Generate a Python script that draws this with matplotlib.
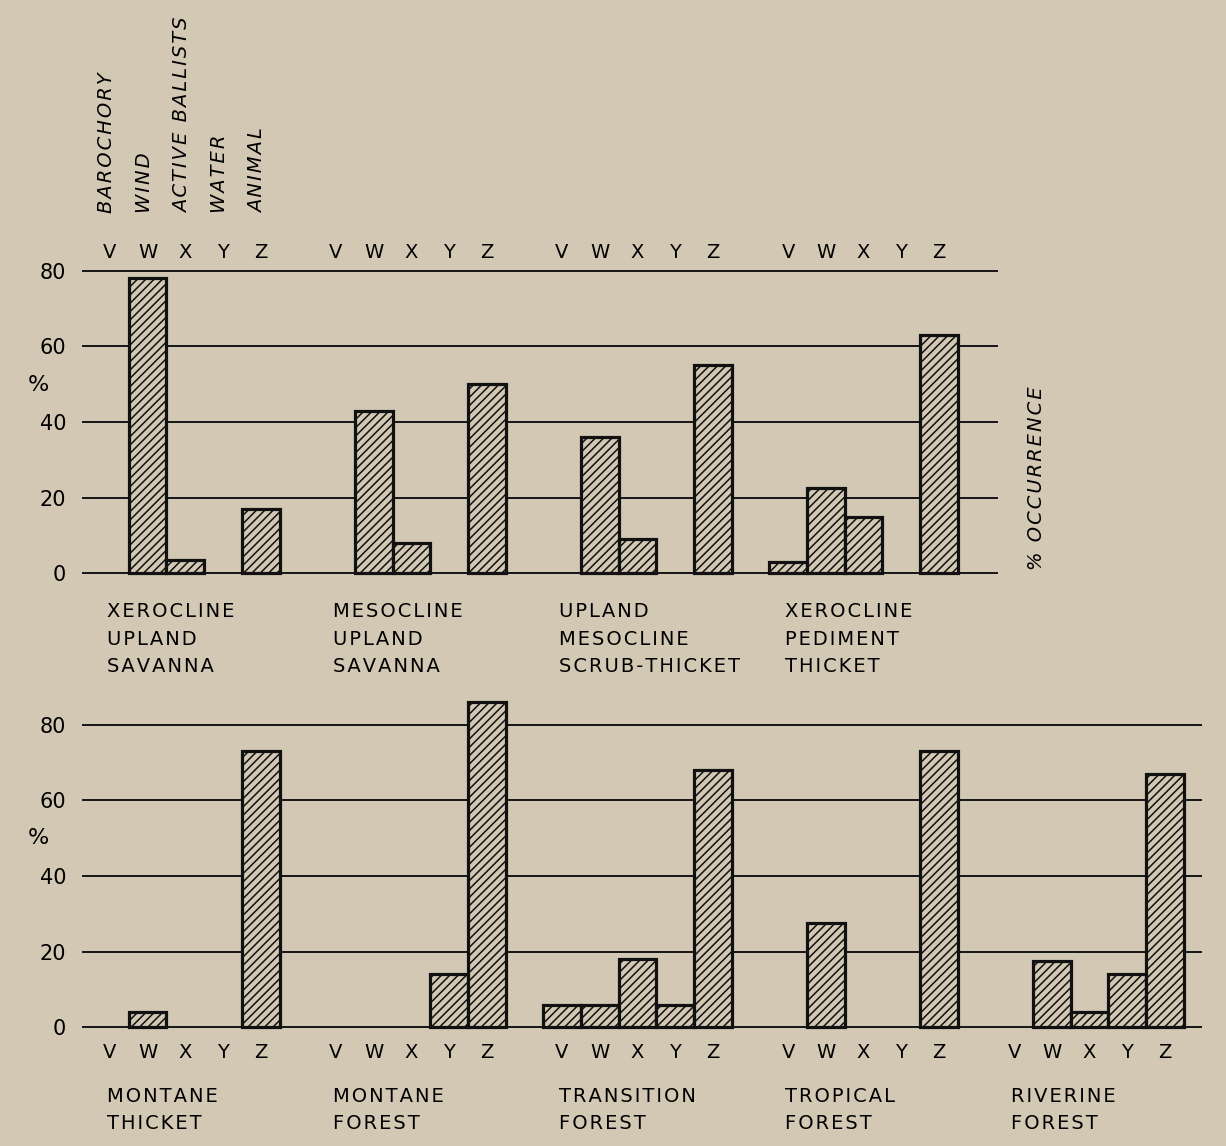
import matplotlib
matplotlib.use('Agg')
import matplotlib.pyplot as plt
import matplotlib.transforms as mtransforms
import numpy as np

W, H = 1226, 1146
BG = '#d3c8b4'

# dispersal modes (same order in every group)
codes = ['V', 'W', 'X', 'Y', 'Z']
modes = ['BAROCHORY', 'WIND', 'ACTIVE BALLISTS', 'WATER', 'ANIMAL']
yticks = [0, 20, 40, 60, 80]

top_sites = ['XEROCLINE\nUPLAND\nSAVANNA',
             'MESOCLINE\nUPLAND\nSAVANNA',
             'UPLAND\nMESOCLINE\nSCRUB-THICKET',
             'XEROCLINE\nPEDIMENT\nTHICKET']
top_vals = [[0, 78, 3.5, 0, 17],
            [0, 43, 8, 0, 50],
            [0, 36, 9, 0, 55],
            [3, 22.5, 15, 0, 63]]

bottom_sites = ['MONTANE\nTHICKET',
                'MONTANE\nFOREST',
                'TRANSITION\nFOREST',
                'TROPICAL\nFOREST',
                'RIVERINE\nFOREST']
bottom_vals = [[0, 4, 0, 0, 73],
               [0, 0, 0, 14, 86],
               [6, 6, 18, 6, 68],
               [0, 27.5, 0, 0, 73],
               [0, 17.5, 4, 14, 67]]

plt.rcParams['font.family'] = 'DejaVu Sans'
plt.rcParams['hatch.linewidth'] = 1.1

PX_X = 37.67   # pixels per bar
PX_Y = 3.7825  # pixels per percent


def box(x0, x1, ytop, ybot):
    return [x0 / W, 1 - ybot / H, (x1 - x0) / W, (ybot - ytop) / H]


def spaced(s):
    return '\u200a'.join(s)


fig = plt.figure(figsize=(W / 100, H / 100), dpi=100, facecolor=BG)

# zero lines: top panel at 573.3 px, bottom panel at 1027.3 px
ax_top = fig.add_axes(box(82, 998, 573.3 - 85 * PX_Y, 573.3 + 2 * PX_Y))
ax_bot = fig.add_axes(box(82, 1202, 1027.3 - 90 * PX_Y, 1027.3 + 2 * PX_Y))

panels = [(ax_top, top_vals, top_sites, (-2, 85), 998, 253, 611.7, 27.5),
          (ax_bot, bottom_vals, bottom_sites, (-2, 90), 1202, 1052, 1097, 26.6)]

for ax, vals, sites, ylim, right_px, code_y, lab_y, gap in panels:
    ax.set_xlim(-0.743, (right_px - 82) / PX_X - 0.743)
    ax.set_ylim(*ylim)
    ax.set_facecolor('none')
    for s in ax.spines.values():
        s.set_visible(False)
    ax.set_xticks([])
    ax.set_yticks(yticks)
    ax.tick_params(axis='y', length=0, pad=11.5, labelsize=15)
    for t in yticks:
        ax.axhline(t, color='#151515', lw=1.4, zorder=1)
    trans = mtransforms.blended_transform_factory(ax.transData, fig.transFigure)
    for g, row in enumerate(vals):
        x = g * 6 + np.arange(len(codes))
        v = np.array(row, dtype=float)
        keep = v > 0
        ax.bar(x[keep], v[keep], width=1.0, facecolor=BG, edgecolor='#111111',
               linewidth=2.3, hatch='////', zorder=2, clip_on=False)
        for k, c in enumerate(codes):
            ax.text(g * 6 + k, 1 - code_y / H, c, transform=trans,
                    ha='center', va='center', fontsize=14)
        for i, line in enumerate(sites[g].split('\n')):
            ax.text(g * 6 - 0.08, 1 - (lab_y + i * gap) / H, spaced(line),
                    transform=trans, ha='left', va='center', fontsize=14)

# dispersal mode names written upward over the first group
trans = mtransforms.blended_transform_factory(ax_top.transData, fig.transFigure)
for k, m in enumerate(modes):
    ax_top.text(k - 0.08, 1 - 213 / H, spaced(m), transform=trans, rotation=90,
                ha='center', va='bottom', fontsize=14, style='italic')

fig.text(38 / W, 1 - 385 / H, '%', fontsize=16, ha='center', va='center')
fig.text(38 / W, 1 - 838 / H, '%', fontsize=16, ha='center', va='center')
fig.text(1036 / W, 1 - 570 / H, spaced('% OCCURRENCE'), rotation=90,
         ha='center', va='bottom', fontsize=14, style='italic')

fig.savefig('out.png', dpi=100, facecolor=BG)
